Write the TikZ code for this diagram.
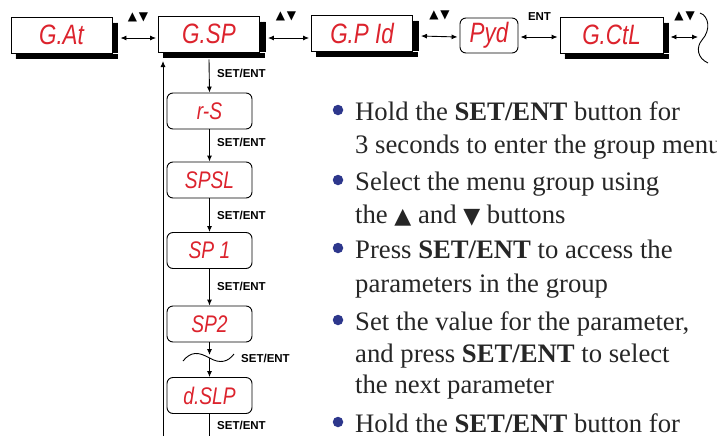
\documentclass[tikz,border=0pt]{standalone}
\usepackage{fontspec}
\setmainfont{Liberation Serif}
\newfontfamily\segfont{Liberation Sans}[FakeStretch=0.8]
\newfontfamily\labfont{Liberation Sans}
\newfontfamily\symfont{DejaVu Sans}
\usetikzlibrary{arrows.meta}
\definecolor{segred}{RGB}{220,35,45}
\definecolor{bulblue}{RGB}{45,55,140}

\begin{document}
\begin{tikzpicture}[x=1pt,y=-1pt,
        seg/.style={draw,line width=0.9pt,fill=white,inner sep=0pt,text=segred,
            font=\segfont\itshape\fontsize{28}{28}\selectfont},
        lcd/.style={seg,minimum width=101pt,minimum height=36pt},
        par/.style={seg,rounded corners=6pt,minimum width=85pt,minimum height=36pt,
            font=\segfont\itshape\fontsize{24}{24}\selectfont},
        dbl/.style={line width=0.9pt,{Latex[length=6pt,width=5pt]}-{Latex[length=6pt,width=5pt]}},
        dn/.style={line width=0.9pt,-{Latex[length=6pt,width=5pt]}},
        key/.style={inner sep=0pt,font=\labfont\bfseries\fontsize{11.5}{12}\selectfont},
        updn/.style={inner sep=0pt,font=\symfont\fontsize{12}{12}\selectfont},
        txt/.style={anchor=base west,inner sep=0pt,font=\fontsize{26.7}{30}\selectfont,text=black!85},
        blt/.style={circle,fill=bulblue,inner sep=0pt,minimum size=10.5pt},
        hatch/.style={line width=0.8pt}]
    \node[lcd] (gat) at (61.5,35) {G.At};
    \node[lcd] (gsp) at (209,34) {G.SP};
    \node[lcd] (gpid) at (362,33) {G.P Id};
    \node[seg,rounded corners=6pt,minimum width=58pt,minimum height=35pt] (pyd) at (489,35.5) {Pyd};
    \node[lcd,minimum width=103pt] (gctl) at (611.5,35) {G.CtL};
    \foreach \n in {gat,gsp,gpid,gctl}
        \foreach \d in {0.6,1.2,...,5.5} {
            \draw[hatch] ([xshift=\d pt,yshift=-6pt]\n.north east) -- ([xshift=\d pt]\n.south east);
            \draw[hatch] ([xshift=5pt,yshift=-\d pt]\n.south west) -- ([xshift=5.5pt,yshift=-\d pt]\n.south east);
        }
    \coordinate (gend) at (698,37);
    \draw[dbl] ([xshift=8pt,yshift=-3pt]gat.east) -- ([xshift=-2pt,yshift=-4pt]gsp.west);
    \draw[dbl] ([xshift=8pt,yshift=-4pt]gsp.east) -- ([xshift=-2pt,yshift=-5pt]gpid.west);
    \draw[dbl] ([xshift=8pt,yshift=-3pt]gpid.east) -- ([xshift=-2pt,yshift=-1.5pt]pyd.west);
    \draw[dbl] ([xshift=2pt,yshift=-1.5pt]pyd.east) -- ([xshift=-2pt,yshift=-2pt]gctl.west);
    \draw[dbl] ([xshift=7pt,yshift=-2pt]gctl.east) -- (gend);
    \node[updn] (ud1) at (138,17) {▲\,▼};
    \node[updn] (ud2) at (286,16) {▲\,▼};
    \node[updn] (ud3) at (439.5,15) {▲\,▼};
    \node[key] (ent) at (539.5,17) {ENT};
    \node[updn] (ud4) at (684.5,16) {▲\,▼};
    \draw[line width=0.9pt] (700,13) .. controls (709,16) and (711,30) .. (702,40)
        .. controls (696,47) and (697,58) .. (708,63);
    \node[par] (rs) at (209.5,111) {r-S};
    \node[par] (spsl) at (209.5,180) {SPSL};
    \node[par] (spa) at (209.5,250.5) {SP 1};
    \node[par] (spb) at (209.5,324) {SP2};
    \node[par] (dslp) at (209.5,395.5) {d.SLP};
    \coordinate (wvt) at (209.5,355);
    \coordinate (wvb) at (209.5,358);
    \coordinate (colend) at (209.5,436);
    \coordinate (retb) at (163,436);
    \coordinate (rett) at (163,61);
    \draw[dn] ([yshift=-7pt]gsp.south) -- (rs.north);
    \draw[dn] (rs.south) -- (spsl.north);
    \draw[dn] (spsl.south) -- (spa.north);
    \draw[dn] (spa.south) -- (spb.north);
    \draw[dn] (spb.south) -- (wvt);
    \draw[dn] (wvb) -- (dslp.north);
    \draw[line width=0.9pt] (dslp.south) -- (colend);
    \draw[dn] (retb) -- (rett);
    \draw[line width=0.9pt] (183,361) .. controls (191,351) and (199,352) .. (209.5,358)
        .. controls (220,364) and (228,362) .. (234,354);
    \node[key,anchor=west] (k1) at (217,73) {SET/ENT};
    \node[key,anchor=west] (k2) at (217,142) {SET/ENT};
    \node[key,anchor=west] (k3) at (217,215) {SET/ENT};
    \node[key,anchor=west] (k4) at (217,286) {SET/ENT};
    \node[key,anchor=west] (k5) at (241,358) {SET/ENT};
    \node[key,anchor=west] (k6) at (217,425) {SET/ENT};
    \node[blt] (b1) at (338,110) {};
    \node[blt] (b2) at (338,180) {};
    \node[blt] (b3) at (338,248) {};
    \node[blt] (b4) at (338,320) {};
    \node[blt] (b5) at (338,422) {};
    \begin{scope}
    \clip (0,0) rectangle (717,436);
    \node[txt] (t1) at (355,120) {Hold the \textbf{SET/ENT} button for};
    \node[txt] (t2) at (355,153) {3 seconds to enter the group menu};
    \node[txt] (t3) at (355,190) {Select the menu group using};
    \node[txt] (t4) at (355,223) {the {\symfont\fontsize{22}{22}\selectfont▲} and {\symfont\fontsize{22}{22}\selectfont▼} buttons};
    \node[txt] (t5) at (355,258) {Press \textbf{SET/ENT} to access the};
    \node[txt] (t6) at (355,292) {parameters in the group};
    \node[txt] (t7) at (355,330) {Set the value for the parameter,};
    \node[txt] (t8) at (355,362) {and press \textbf{SET/ENT} to select};
    \node[txt] (t9) at (355,393) {the next parameter};
    \node[txt] (t10) at (355,432) {Hold the \textbf{SET/ENT} button for};
    \end{scope}
    \useasboundingbox (0,0) rectangle (717,436);
\end{tikzpicture}
\end{document}
